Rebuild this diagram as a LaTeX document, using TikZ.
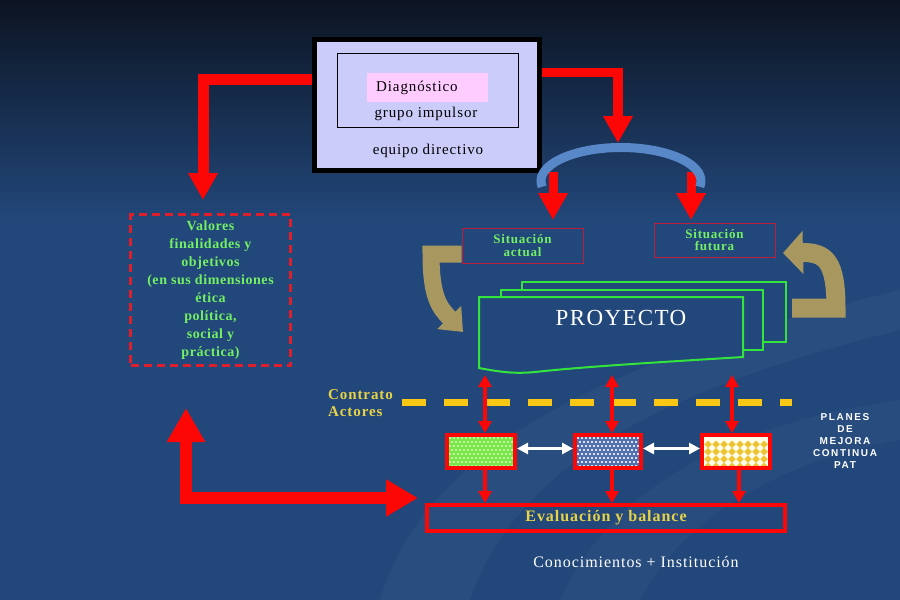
\documentclass[tikz,border=0pt]{standalone}
\usepackage{fontspec}
\setmainfont{Liberation Serif}
\newfontfamily\spserif[LetterSpace=6]{Liberation Serif}
\newfontfamily\spserifb[LetterSpace=4]{Liberation Serif}
\newfontfamily\planesfont[LetterSpace=16]{Liberation Sans}
\usetikzlibrary{arrows.meta}
\definecolor{bgtop}{RGB}{12,20,34}
\definecolor{bgblue}{RGB}{34,71,122}
\definecolor{lav}{RGB}{204,204,250}
\definecolor{pinkd}{RGB}{255,204,255}
\definecolor{bred}{RGB}{252,6,6}
\definecolor{dashred}{RGB}{222,30,42}
\definecolor{crim}{RGB}{190,30,60}
\definecolor{arcblue}{RGB}{88,136,200}
\definecolor{olive}{RGB}{168,152,96}
\definecolor{pgreen}{RGB}{50,228,60}
\definecolor{tgreen}{RGB}{115,240,100}
\definecolor{tyellow}{RGB}{232,210,70}
\definecolor{dyellow}{RGB}{250,200,20}
\definecolor{chkgreen}{RGB}{120,232,70}
\definecolor{chkblue}{RGB}{80,112,178}
\definecolor{dmyellow}{RGB}{240,195,50}
\tikzset{
  redarr/.style={draw=bred, line join=miter, -{Triangle[width=28pt,length=27pt]}},
  reddbl/.style={draw=bred, line width=4pt, {Triangle[width=13pt,length=12pt]}-{Triangle[width=13pt,length=12pt]}},
  redone/.style={draw=bred, line width=4pt, -{Triangle[width=13pt,length=12pt]}},
  whitedbl/.style={draw=white, line width=3pt, {Triangle[width=11pt,length=11pt]}-{Triangle[width=11pt,length=11pt]}},
  olivearr/.style={draw=olive, line join=miter},
  sitbox/.style={draw=crim, line width=1pt, inner sep=0pt, align=center, text=tgreen, font=\spserif\bfseries\fontsize{13}{12.5}\selectfont},
  smallbox/.style={draw=bred, line width=4pt, inner sep=0pt},
  proyline/.style={draw=pgreen, line width=2pt, fill=bgblue},
  toptext/.style={inner sep=0pt, font=\spserif\fontsize{15}{16}\selectfont},
}
\begin{document}
\begin{tikzpicture}[x=1pt,y=-1pt]
\useasboundingbox (0,0) rectangle (900,600);
% background
\shade[top color=bgtop, bottom color=bgblue] (0,0) rectangle (900,220);
\fill[bgblue] (0,219.5) rectangle (900,600);
\fill[white,opacity=0.035] (380,600) .. controls (430,430) and (650,350) .. (900,290) -- (900,330) .. controls (700,380) and (520,450) .. (470,600) -- cycle;
\fill[white,opacity=0.03] (560,600) .. controls (620,470) and (760,420) .. (900,400) -- (900,440) .. controls (780,460) and (680,520) .. (640,600) -- cycle;

% top box
\node[draw=black, line width=5pt, fill=lav, minimum width=225pt, minimum height=131pt, inner sep=0pt] (dir) at (427,105) {};
\node[draw=black, line width=1pt, minimum width=181pt, minimum height=74pt, inner sep=0pt] (imp) at (427.5,90) {};
\node[fill=pinkd, minimum width=121pt, minimum height=29pt, inner sep=0pt] (diagbg) at (427.5,87.5) {};
\node[toptext, anchor=west] (diag) at (376,88) {Diagnóstico};
\node[toptext] (grp) at (426,114) {grupo impulsor};
\node[toptext] (eqd) at (428,151) {equipo directivo};

% red arrows from top box
\coordinate (lt) at (203,200);
\coordinate (rt) at (618,143);
\draw[redarr, line width=11pt] ([yshift=26pt]dir.west) -- (203,79) -- (lt);
\draw[redarr, line width=9.5pt] ([yshift=32.5pt]dir.east) -- (618,72.5) -- (rt);

% small red arrows under the arc
\coordinate (sa1) at (553,172);
\coordinate (sa2) at (553,220);
\coordinate (sf1) at (691,172);
\coordinate (sf2) at (691,220);
\draw[redarr, line width=9pt] (sa1) -- (sa2);
\draw[redarr, line width=9pt] (sf1) -- (sf2);
% arc
\draw[draw=arcblue, line width=9pt] (542.2,186.8) arc[start angle=170, end angle=370, x radius=80, y radius=33.5];

% situacion boxes
\node[sitbox, minimum width=121pt, minimum height=35pt] (sa) at (522.5,245.5) {Situación\\actual};
\node[sitbox, minimum width=121pt, minimum height=34pt] (sf) at (714.5,240) {Situación\\futura};

% olive arrows
\draw[olivearr, line width=17pt, -{Triangle[width=32pt,length=20pt]}] (sa.west |- 0,254) -- (431,254) .. controls (431,298) and (440,308) .. (463,332);
\draw[olivearr, line width=19pt, -{Triangle[width=42pt,length=20pt]}] (792,308) -- (836,308) .. controls (836,262) and (826,252) .. (783,253);

% proyecto
\draw[proyline] (522,282) rectangle (786,342);
\draw[proyline] (501,290) rectangle (763,350);
\draw[proyline] (479,297) -- (743,297) -- (743,357) .. controls (680,361) and (590,366) .. (535,372) .. controls (515,374) and (500,372) .. (479,368) -- cycle;
\node[text=white, inner sep=0pt, font=\spserif\fontsize{23}{25}\selectfont] (proy) at (621,318) {PROYECTO};

% values box
\node[draw=dashred, line width=3pt, dash pattern=on 8pt off 5pt, minimum width=160pt, minimum height=151pt, inner sep=0pt, align=center, text=tgreen, font=\spserifb\bfseries\fontsize{14}{18}\selectfont] (val) at (210.5,290) {Valores\\finalidades y\\objetivos\\(en sus dimensiones\\ética\\política,\\social y\\práctica)};

% contrato
\node[anchor=west, align=left, inner sep=0pt, text=tyellow, font=\spserif\bfseries\fontsize{15}{17}\selectfont] (con) at (328,403.5) {Contrato\\Actores};
\coordinate (dl) at (402,402.5);
\coordinate (dr) at (792,402.5);
\draw[draw=dyellow, line width=7pt, dash pattern=on 24pt off 18pt] (dl) -- (dr);

% pattern fills
\begin{scope}
\clip (449,437) rectangle (513,466);
\fill[chkgreen] (449,437) rectangle (513,466);
\foreach \i in {0,...,15}{\foreach \j in {0,...,7}{
  \fill[white,opacity=0.55] ({449+4*\i+2*mod(\j,2)},{437+4*\j}) rectangle ++(2,2);}}
\end{scope}
\begin{scope}
\clip (577,437) rectangle (639,466);
\fill[chkblue] (577,437) rectangle (639,466);
\foreach \i in {0,...,15}{\foreach \j in {0,...,7}{
  \fill[white,opacity=0.8] ({577+4*\i+2*mod(\j,2)},{437+4*\j}) rectangle ++(2,2);}}
\end{scope}
\begin{scope}
\clip (704,437) rectangle (768,466);
\fill[white!92!yellow] (704,437) rectangle (768,466);
\foreach \i in {0,...,7}{\foreach \j in {0,...,3}{
  \fill[dmyellow] ({708+8*\i},{440.5+7.4*\j}) -- ++(3.8,3.8) -- ++(-3.8,3.8) -- ++(-3.8,-3.8) -- cycle;}}
\end{scope}

% small boxes and evaluation
\node[smallbox, minimum width=68pt, minimum height=33pt] (b1) at (481,451.5) {};
\node[smallbox, minimum width=66pt, minimum height=33pt] (b2) at (608,451.5) {};
\node[smallbox, minimum width=68pt, minimum height=33pt] (b3) at (736,451.5) {};
\node[smallbox, minimum width=358pt, minimum height=26pt, text=tyellow, font=\spserif\bfseries\fontsize{16}{18}\selectfont] (ev) at (606,518) {Evaluación y balance};

\coordinate (t1) at (485,375);
\coordinate (t2) at (612,375);
\coordinate (t3) at (732,375);
\coordinate (d3) at (739,470);
\draw[reddbl] (t1) -- (t1 |- b1.north);
\draw[reddbl] (t2) -- (t2 |- b2.north);
\draw[reddbl] (t3) -- (t3 |- b3.north);
\draw[redone] (t1 |- b1.south) -- (t1 |- ev.north);
\draw[redone] (t2 |- b2.south) -- (t2 |- ev.north);
\draw[redone] (d3 |- b3.south) -- (d3 |- ev.north);
\draw[whitedbl] ([yshift=3pt]b1.east) -- ([yshift=3pt]b2.west);
\draw[whitedbl] ([yshift=3pt]b2.east) -- ([yshift=3pt]b3.west);

% big L arrow
\coordinate (up) at (186,408);
\coordinate (rt2) at (418,498);
\draw[draw=bred, line width=12pt, line join=miter, {Triangle[width=36pt,length=34pt]}-{Triangle[width=35pt,length=32pt]}] (up) -- (186,498) -- (rt2);

% texts
\node[text=white, inner sep=0pt, font=\spserif\fontsize{16}{18}\selectfont] (cono) at (636,562) {Conocimientos + Institución};
\node[text=white, align=center, inner sep=0pt, font=\planesfont\bfseries\fontsize{10}{12}\selectfont] (pl) at (845,441) {PLANES\\DE\\MEJORA\\CONTINUA\\PAT};
\end{tikzpicture}
\end{document}
